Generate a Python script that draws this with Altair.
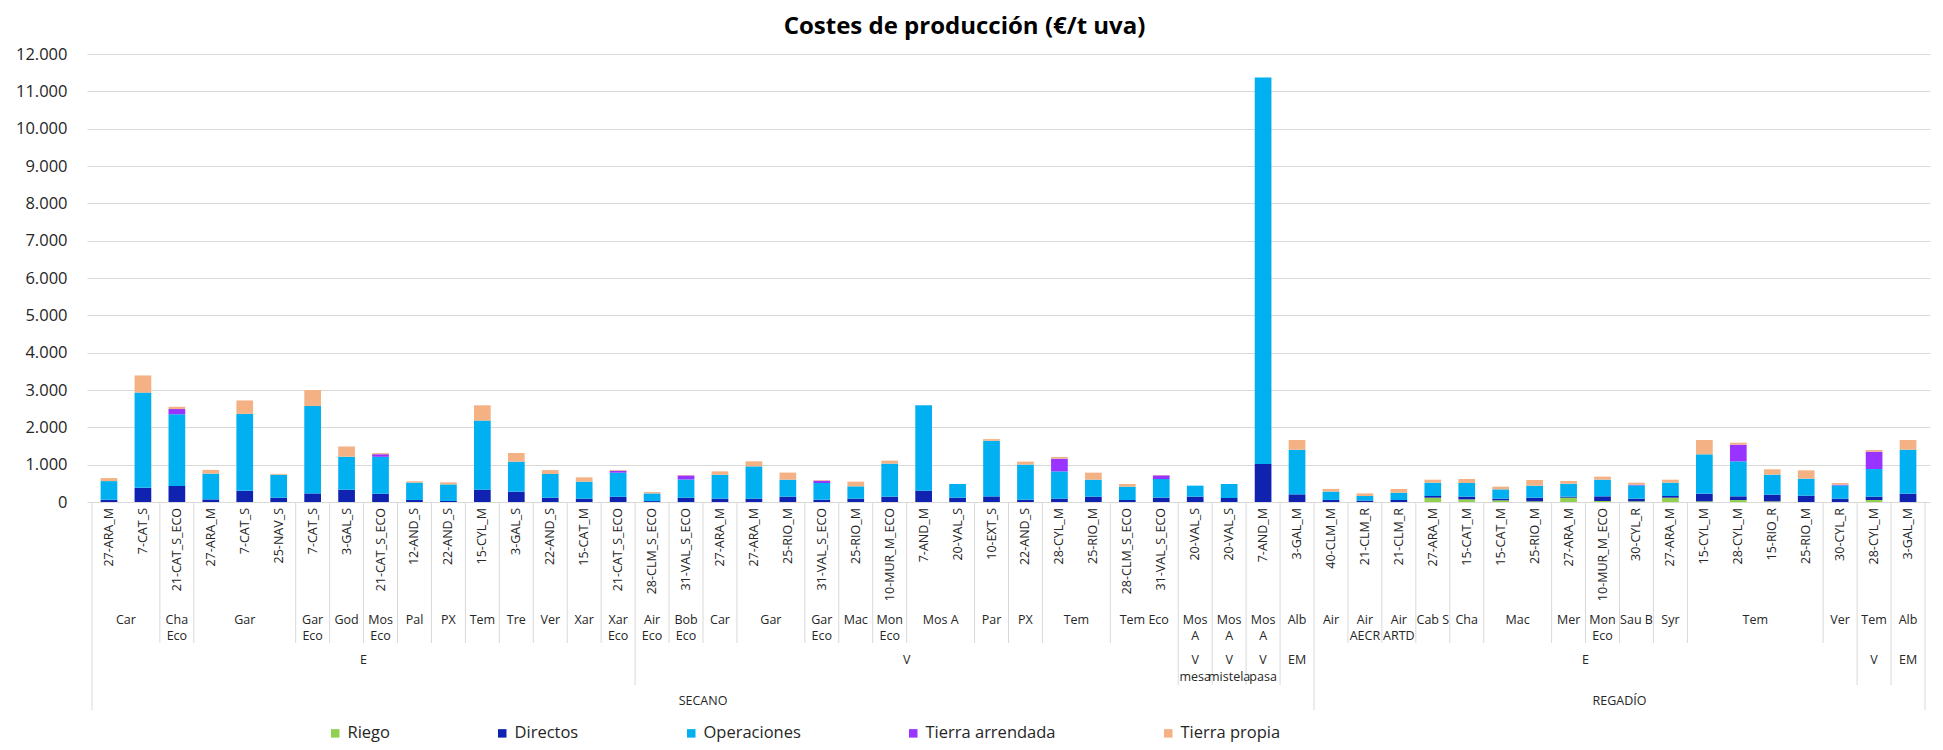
import altair as alt
import pandas as pd

# ---------------- data ----------------
sistemas = ["SECANO"] * 36 + ["REGADÍO"] * 18
tipos = (["E"] * 16 + ["V"] * 16 + ["V\nmesa", "V\nmistela", "V\npasa", "EM"]
         + ["E"] * 16 + ["V", "EM"])
variedades = [
    "Car", "Car", "Cha\nEco", "Gar", "Gar", "Gar", "Gar\nEco", "God", "Mos\nEco", "Pal",
    "PX", "Tem", "Tre", "Ver", "Xar", "Xar\nEco",
    "Air\nEco", "Bob\nEco", "Car", "Gar", "Gar", "Gar\nEco", "Mac", "Mon\nEco", "Mos A", "Mos A",
    "Par", "PX", "Tem", "Tem", "Tem Eco", "Tem Eco",
    "Mos\nA", "Mos\nA", "Mos\nA", "Alb",
    "Air", "Air\nAECR", "Air\nARTD", "Cab S", "Cha", "Mac", "Mac", "Mer", "Mon\nEco", "Sau B",
    "Syr", "Tem", "Tem", "Tem", "Tem", "Ver",
    "Tem", "Alb",
]
muestras = [
    "27-ARA_M", "7-CAT_S", "21-CAT_S_ECO", "27-ARA_M", "7-CAT_S", "25-NAV_S", "7-CAT_S", "3-GAL_S",
    "21-CAT_S_ECO", "12-AND_S", "22-AND_S", "15-CYL_M", "3-GAL_S", "22-AND_S", "15-CAT_M", "21-CAT_S_ECO",
    "28-CLM_S_ECO", "31-VAL_S_ECO", "27-ARA_M", "27-ARA_M", "25-RIO_M", "31-VAL_S_ECO", "25-RIO_M",
    "10-MUR_M_ECO", "7-AND_M", "20-VAL_S", "10-EXT_S", "22-AND_S", "28-CYL_M", "25-RIO_M",
    "28-CLM_S_ECO", "31-VAL_S_ECO",
    "20-VAL_S", "20-VAL_S", "7-AND_M", "3-GAL_M",
    "40-CLM_M", "21-CLM_R", "21-CLM_R", "27-ARA_M", "15-CAT_M", "15-CAT_M", "25-RIO_M", "27-ARA_M",
    "10-MUR_M_ECO", "30-CYL_R", "27-ARA_M", "15-CYL_M", "28-CYL_M", "15-RIO_R", "25-RIO_M", "30-CYL_R",
    "28-CYL_M", "3-GAL_M",
]

riego = [0] * 39 + [116, 71, 45, 18, 116, 27, 18, 116, 18, 54, 18, 0, 0, 54, 0]
directos = [60, 380, 430, 70, 300, 115, 230, 330, 220, 55, 27, 330, 277, 115, 90, 140,
            25, 115, 90, 90, 143, 62, 90, 143, 304, 116, 150, 62, 90, 143, 54, 116,
            143, 107, 1020, 205,
            55, 40, 54, 45, 72, 44, 98, 27, 125, 71, 45, 205, 98, 178, 170, 89, 89, 223]
operaciones = [500, 2550, 1920, 690, 2060, 615, 2340, 885, 990, 465, 445, 1850, 805, 635, 455, 645,
               205, 490, 640, 865, 455, 447, 330, 885, 2285, 366, 1490, 940, 730, 455, 357, 500,
               295, 375, 10350, 1195,
               225, 120, 196, 357, 366, 250, 322, 348, 446, 357, 357, 1054, 937, 536, 455, 357, 741, 1179]
tierra_arrendada = [0, 0, 140, 0, 0, 0, 0, 0, 70, 0, 0, 0, 0, 0, 0, 55,
                    0, 107, 0, 0, 0, 62, 0, 0, 0, 0, 0, 0, 340, 0, 0, 98,
                    0, 0, 0, 0,
                    0, 0, 0, 0, 0, 0, 0, 0, 0, 18, 0, 0, 447, 0, 0, 18, 464, 0]
tierra_propia = [80, 460, 60, 100, 360, 25, 430, 270, 30, 35, 55, 410, 230, 105, 115, 18,
                 35, 10, 90, 135, 190, 18, 125, 80, 0, 0, 45, 80, 45, 188, 70, 10,
                 0, 0, 0, 260,
                 70, 70, 98, 80, 107, 72, 151, 71, 81, 54, 80, 384, 53, 143, 223, 45, 45, 259]

componentes = ["Riego", "Directos", "Operaciones", "Tierra arrendada", "Tierra propia"]
colores = ["#92D050", "#1023B0", "#00B0F0", "#9933FF", "#F4B183"]

FONT = "Open Sans"
TXT = "#262626"
GRID = "#D9D9D9"

# ---------------- tables ----------------
n = len(muestras)
series = [riego, directos, operaciones, tierra_arrendada, tierra_propia]
rows = []
for i in range(n):
    for k, (name, vals) in enumerate(zip(componentes, series)):
        rows.append({"pos": i, "comp": name, "ord": k, "value": vals[i]})
bars_df = pd.DataFrame(rows)

lab1_df = pd.DataFrame({"pos": list(range(n)), "label": muestras})


def runs(keys):
    out, start = [], 0
    for i in range(1, n + 1):
        if i == n or keys[i] != keys[start]:
            out.append(((start + i - 1) / 2, keys[start]))
            start = i
    return out


k2 = list(zip(sistemas, tipos, variedades))
k3 = list(zip(sistemas, tipos))
k4 = list(sistemas)
lab2_df = pd.DataFrame([{"pos": p, "label": k[2]} for p, k in runs(k2)])
lab3_df = pd.DataFrame([{"pos": p, "label": k[1]} for p, k in runs(k3)])
lab4_df = pd.DataFrame([{"pos": p, "label": k} for p, k in runs(k4)])

bounds = [{"pos": -0.5, "level": 4}, {"pos": n - 0.5, "level": 4}]
for i in range(1, n):
    if k4[i] != k4[i - 1]:
        lev = 4
    elif k3[i] != k3[i - 1]:
        lev = 3
    elif k2[i] != k2[i - 1]:
        lev = 2
    else:
        continue
    bounds.append({"pos": i - 0.5, "level": lev})
bounds_df = pd.DataFrame(bounds)

# ---------------- chart ----------------
W, H = 1843, 448
xscale = alt.Scale(domain=[-0.5, n - 0.5], nice=False, zero=False)
X = alt.X("pos:Q", scale=xscale, axis=None)

bars = alt.Chart(bars_df).mark_bar(width=16.7).encode(
    x=X,
    y=alt.Y("value:Q", stack="zero",
            scale=alt.Scale(domain=[0, 12000], nice=False),
            axis=alt.Axis(values=list(range(0, 12001, 1000)),
                          labelExpr="replace(format(datum.value, ','), ',', '.')",
                          grid=True, gridColor=GRID, gridWidth=1,
                          domain=False, ticks=False, tickSize=0, labelPadding=20,
                          labelFont=FONT, labelFontSize=16.5, labelColor=TXT, title=None)),
    color=alt.Color("comp:N",
                    scale=alt.Scale(domain=componentes, range=colores),
                    legend=alt.Legend(title=None, orient="none", legendX=240, legendY=671,
                                      direction="horizontal", symbolType="square",
                                      symbolSize=72, symbolStrokeWidth=0,
                                      labelFont=FONT, labelFontSize=16.5, labelColor=TXT,
                                      labelOffset=4, columnPadding=104)),
    order=alt.Order("ord:Q", sort="ascending"),
)

rule_ends = {2: 589, 3: 631, 4: 656}
rules = [
    alt.Chart(bounds_df).transform_filter(f"datum.level == {lev}")
    .mark_rule(color=GRID, strokeWidth=1)
    .encode(x=X, y=alt.value(H), y2=alt.value(end))
    for lev, end in rule_ends.items()
]

lab1 = alt.Chart(lab1_df).mark_text(
    angle=270, align="right", baseline="middle", font=FONT, fontSize=12.5, color=TXT
).encode(x=X, y=alt.value(H + 6), text="label:N")

lab2 = alt.Chart(lab2_df).mark_text(
    align="center", baseline="top", font=FONT, fontSize=12.5, color=TXT,
    lineBreak="\n", lineHeight=16
).encode(x=X, y=alt.value(560), text="label:N")

lab3 = alt.Chart(lab3_df).mark_text(
    align="center", baseline="top", font=FONT, fontSize=12.5, color=TXT,
    lineBreak="\n", lineHeight=17
).encode(x=X, y=alt.value(600), text="label:N")

lab4 = alt.Chart(lab4_df).mark_text(
    align="center", baseline="top", font=FONT, fontSize=12.5, color=TXT
).encode(x=X, y=alt.value(641), text="label:N")

chart = alt.layer(bars, *rules, lab1, lab2, lab3, lab4).properties(
    width=W, height=H,
    title=alt.TitleParams("Costes de producción (€/t uva)", font=FONT, fontSize=24,
                          fontWeight="bold", color="#000000", anchor="middle",
                          dx=-44, offset=7),
    autosize=alt.AutoSizeParams(type="none"),
    padding={"left": 79, "top": 46, "right": 5, "bottom": 240},
).configure_view(stroke=None)

chart.save("out.html", embed_options={"renderer": "svg", "actions": False})
